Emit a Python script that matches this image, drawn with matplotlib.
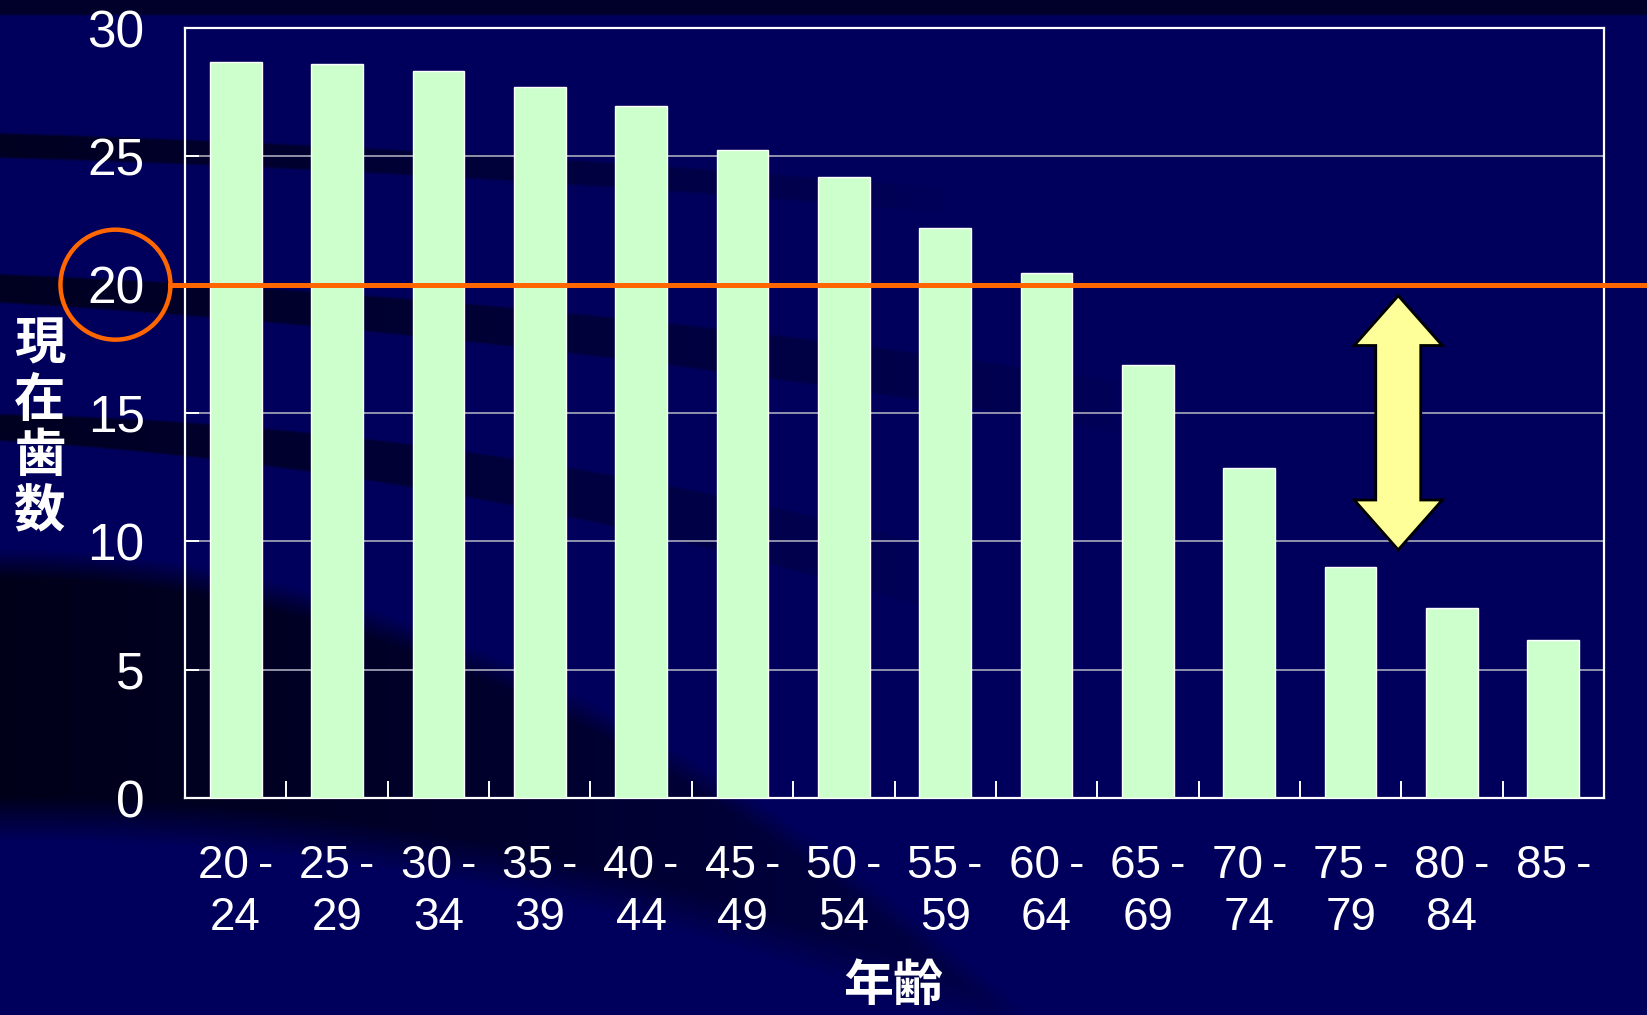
import numpy as np
import matplotlib
matplotlib.use("Agg")
import matplotlib.pyplot as plt
from matplotlib.patches import Ellipse, Polygon
from matplotlib.transforms import blended_transform_factory

# --- data -------------------------------------------------------------
age_groups = ["20\u2009-\n24", "25\u2009-\n29", "30\u2009-\n34", "35\u2009-\n39",
              "40\u2009-\n44", "45\u2009-\n49", "50\u2009-\n54", "55\u2009-\n59",
              "60\u2009-\n64", "65\u2009-\n69", "70\u2009-\n74", "75\u2009-\n79",
              "80\u2009-\n84", "85\u2009-"]
teeth_counts = [28.67, 28.59, 28.32, 27.70, 26.97, 25.25, 24.18, 22.22,
                20.44, 16.86, 12.85, 9.00, 7.42, 6.15]
y_ticks = [0, 5, 10, 15, 20, 25, 30]
target_teeth = 20

W, H = 1647, 1015
fig = plt.figure(figsize=(W / 100, H / 100), dpi=100)
fig.patch.set_facecolor("#00005c")

# --- slide background: navy with dark sweeping bands -----------------
yy, xx = np.mgrid[0:H, 0:W].astype(float)


def sweep(y0, a, b, half0, half_k, x_fade, edge=3.0):
    yc = y0 + a * xx + b * xx ** 2
    half = half0 + half_k * xx
    prof = np.clip((half - np.abs(yy - yc)) / edge + 0.5, 0, 1)
    fade = np.clip(1 - xx / x_fade, 0, 1) ** 0.8
    return prof * fade


dark = np.zeros((H, W))
dark = np.maximum(dark, 0.85 * sweep(145, 0.03, 0.00003, 12, 0.0, 950))
dark = np.maximum(dark, 0.85 * sweep(288, 0.05, 0.00005, 14, 0.01, 1150))
dark = np.maximum(dark, 0.85 * sweep(427, 0.04, 0.00013, 13, 0.02, 950))

# dark wedge in the lower left
y_top = 557 + 0.00044 * xx ** 2
y_bot = 840 + 0.0002 * xx ** 2
upper = np.clip((yy - y_top) / 30 + 0.3, 0, 1)
lower = np.clip((y_bot - yy) / 45, 0, 1)
wedge = upper * lower * np.clip(1 - xx / 1150, 0, 1) ** 0.6
dark = np.maximum(dark, 0.95 * wedge)

# darker strip along the top edge
dark = np.maximum(dark, 0.7 * np.clip((16 - yy) / 3, 0, 1))

navy = np.array([0, 0, 92]) / 255
deep = np.array([0, 0, 22]) / 255
bg = navy[None, None, :] * (1 - dark[..., None]) + deep[None, None, :] * dark[..., None]
fig.figimage(bg, xo=0, yo=0, origin="upper", zorder=-10)

# --- chart ------------------------------------------------------------
ax = fig.add_axes([185 / W, 1 - 798 / H, (1604 - 185) / W, (798 - 28) / H])
ax.patch.set_alpha(0)

x = np.arange(len(age_groups))
ax.bar(x, teeth_counts, width=0.51, color="#CCFFCC", edgecolor="white",
       linewidth=1.0, zorder=3)

ax.set_xlim(-0.5, len(age_groups) - 0.5)
ax.set_ylim(0, 30)
ax.set_axisbelow(True)
ax.set_yticks(y_ticks)
ax.yaxis.grid(True, color="#A9A9BC", linewidth=1.2)

for side in ("left", "right", "top", "bottom"):
    ax.spines[side].set_color("white")
    ax.spines[side].set_linewidth(1.6)

label_font = ["Liberation Sans", "DejaVu Sans"]
ax.tick_params(axis="y", direction="in", length=10, width=1.4, color="white",
               labelsize=37, labelcolor="white", pad=29)
for t in ax.get_yticklabels():
    t.set_family(label_font)

# boundary ticks between categories, labels at the category centres
ax.set_xticks(np.arange(0.5, len(age_groups) - 0.5, 1.0))
ax.set_xticklabels([])
ax.tick_params(axis="x", which="major", direction="in", length=12, width=1.4,
               color="white")
ax.set_xticks(x, minor=True)
ax.set_xticklabels(age_groups, minor=True)
ax.tick_params(axis="x", which="minor", length=0, labelsize=33,
               labelcolor="white", pad=33)
for t in ax.get_xticklabels(minor=True):
    t.set_family(label_font)
    t.set_linespacing(1.24)

# reference line at 20 teeth, running out to the right edge of the slide
mix = blended_transform_factory(fig.transFigure, ax.transData)
ax.plot([0.1035, 1.0], [target_teeth, target_teeth], transform=mix,
        color="#FF6600", linewidth=3.6, clip_on=False, zorder=5)
ax.add_patch(Ellipse((0.0701, target_teeth), width=110 / W, height=110 / 25.67,
                     transform=mix, fill=False, edgecolor="#FF6600",
                     linewidth=3.2, clip_on=False, zorder=5))

# double-headed block arrow showing the gap below 20 teeth
cx, head_hw, shaft_hw = 11.47, 0.434, 0.222
tip_top, tip_bot, head_len = 19.57, 9.67, 1.94
arrow_pts = [
    (cx, tip_top), (cx + head_hw, tip_top - head_len), (cx + shaft_hw, tip_top - head_len),
    (cx + shaft_hw, tip_bot + head_len), (cx + head_hw, tip_bot + head_len), (cx, tip_bot),
    (cx - head_hw, tip_bot + head_len), (cx - shaft_hw, tip_bot + head_len),
    (cx - shaft_hw, tip_top - head_len), (cx - head_hw, tip_top - head_len),
]
ax.add_patch(Polygon(arrow_pts, closed=True, facecolor="#FFFF99",
                     edgecolor="black", linewidth=2.0, joinstyle="miter", zorder=6))

# axis titles
cjk = ["Noto Sans CJK JP", "DejaVu Sans"]
fig.text(40 / W, 1 - 428 / H, "\n".join("現在歯数"), family=cjk,
         fontweight="bold", fontsize=37, color="white", ha="center",
         va="center", linespacing=1.07)
fig.text(893 / W, 1 - 961 / H, "年齢", family=cjk, fontweight="bold",
         fontsize=36, color="white", ha="center", va="top")

fig.savefig("out.png", dpi=100)
